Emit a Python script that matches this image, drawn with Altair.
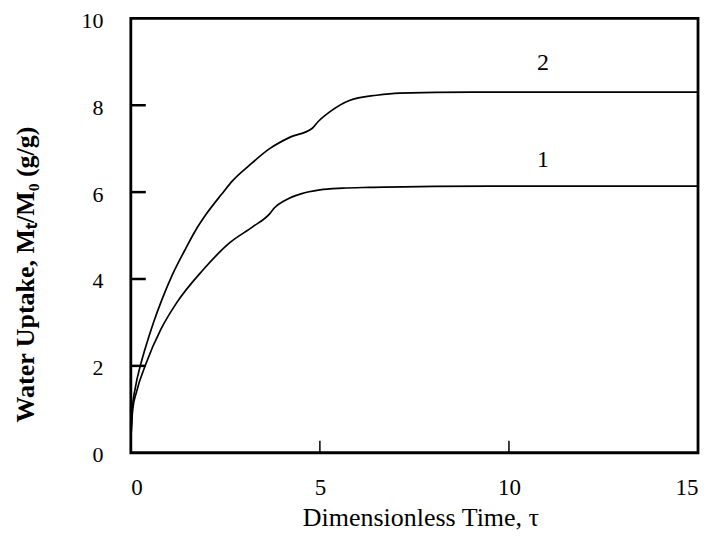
import altair as alt
import pandas as pd

# Curve 1 (lower)
tau1 = [0, 0.05, 0.15, 0.4, 0.8, 1.21, 1.9, 2.61, 3.22, 3.67, 3.8, 4.1, 4.5, 5.0, 5.6, 6.3, 8, 10, 15]
up1 = [0.3, 1.0, 1.4, 2.05, 2.85, 3.45, 4.2, 4.83, 5.2, 5.5, 5.64, 5.82, 5.96, 6.05, 6.09, 6.11, 6.13, 6.14, 6.14]

# Curve 2 (upper)
tau2 = [0, 0.04, 0.12, 0.25, 0.37, 0.6, 0.82, 1.1, 1.42, 1.7, 2.0, 2.4, 2.7, 3.14, 3.67, 4.2, 4.8, 4.95, 5.25, 5.78, 6.5, 7.1, 9, 15]
up2 = [0.3, 1.0, 1.5, 2.0, 2.37, 3.0, 3.52, 4.1, 4.65, 5.1, 5.5, 5.95, 6.27, 6.62, 7.0, 7.26, 7.47, 7.62, 7.84, 8.11, 8.23, 8.28, 8.3, 8.3]

label_text = ["1", "2"]
label_tau = [10.9, 10.9]
label_val = [6.74, 8.97]

x_ticks = [0, 5, 10, 15]
y_ticks = [0, 2, 4, 6, 8, 10]
x_inner_ticks = [5, 10]
y_inner_ticks = [2, 4, 6, 8]

W, H = 568, 435
FONT = "Liberation Serif"

df = pd.concat([
    pd.DataFrame({"tau": tau1, "uptake": up1, "curve": "1"}),
    pd.DataFrame({"tau": tau2, "uptake": up2, "curve": "2"}),
])
labels = pd.DataFrame({"text": label_text, "tau": label_tau, "uptake": label_val})

xscale = alt.Scale(domain=[0, 15], nice=False, zero=False)
yscale = alt.Scale(domain=[0, 10], nice=False, zero=False)

xaxis = alt.Axis(values=x_ticks, title="Dimensionless Time, τ", domain=False, ticks=False,
                 grid=False, labelFont=FONT, labelFontSize=23, labelColor="black",
                 labelPadding=24, titleFont=FONT, titleFontSize=26, titleColor="black",
                 titleFontWeight="normal", titleX=290, titleY=65, titleBaseline="middle")
yaxis = alt.Axis(values=y_ticks, title="Water Uptake, Mₜ/M₀ (g/g)", domain=False, ticks=False,
                 grid=False, labelFont=FONT, labelFontSize=22, labelColor="black",
                 labelPadding=28, labelOffset=2, titleFont=FONT, titleFontSize=26, titleColor="black",
                 titleFontWeight="bold", titleX=-105, titleY=256, titleBaseline="middle",
                 titleAlign="center", titleAngle=270)

lines = alt.Chart(df).mark_line(color="black", strokeWidth=1.7, interpolate="monotone").encode(
    x=alt.X("tau:Q", scale=xscale, axis=xaxis),
    y=alt.Y("uptake:Q", scale=yscale, axis=yaxis),
    detail="curve:N",
)

text = alt.Chart(labels).mark_text(font=FONT, fontSize=24, color="black").encode(
    x=alt.X("tau:Q", scale=xscale),
    y=alt.Y("uptake:Q", scale=yscale),
    text="text:N",
)

ytick = alt.Chart(pd.DataFrame({"v": y_inner_ticks})).mark_rule(color="black", strokeWidth=2.5).encode(
    y=alt.Y("v:Q", scale=yscale),
    x=alt.value(0),
    x2=alt.value(15),
)
xtick = alt.Chart(pd.DataFrame({"v": x_inner_ticks})).mark_rule(color="black", strokeWidth=1.5).encode(
    x=alt.X("v:Q", scale=xscale),
    y=alt.value(H),
    y2=alt.value(H - 12),
)

chart = alt.layer(lines, text, ytick, xtick).properties(
    width=W, height=H,
    background="white",
    autosize=alt.AutoSizeParams(type="none"),
    padding={"left": 123, "top": 10, "right": 8, "bottom": 80},
).configure_view(stroke="black", strokeWidth=2.8)

chart.save("out.html", embed_options={"renderer": "svg", "actions": False})
